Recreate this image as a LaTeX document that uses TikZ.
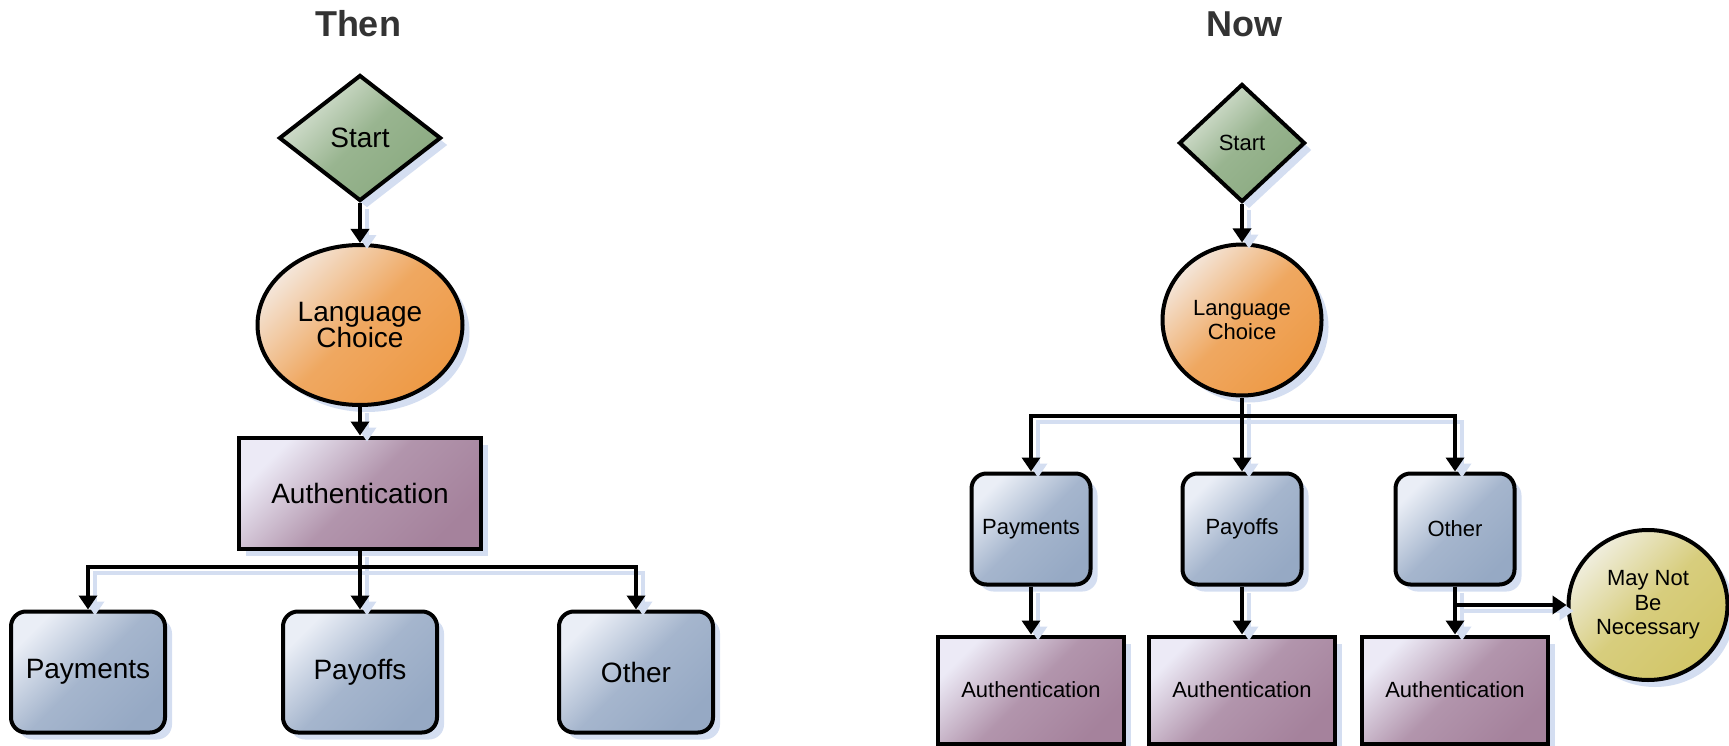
\documentclass[tikz,border=0pt]{standalone}
\usepackage{fontspec}
\setmainfont{Liberation Sans}
\usetikzlibrary{shapes.geometric,arrows.meta,shadows}

\definecolor{shadowc}{HTML}{D4DEF1}
\definecolor{titlec}{HTML}{333333}
\definecolor{greenL}{HTML}{DCE5D8}
\definecolor{greenD}{HTML}{8AAA80}
\definecolor{orangeL}{HTML}{F4E6DA}
\definecolor{orangeD}{HTML}{EE9A46}
\definecolor{purpleL}{HTML}{ECEAF6}
\definecolor{purpleD}{HTML}{A5829C}
\definecolor{blueL}{HTML}{EAEEF6}
\definecolor{blueD}{HTML}{96A9C4}
\definecolor{yellowL}{HTML}{F0EEDE}
\definecolor{yellowD}{HTML}{D2C668}

\begin{document}
\begin{tikzpicture}[x=1pt,y=-1pt,
  shape base/.style={draw=black, line width=4pt, inner sep=0pt, align=center,
    drop shadow={shadow xshift=7pt, shadow yshift=-7pt, fill=shadowc, opacity=1}},
  big/.style={font=\fontsize{28}{26.5}\selectfont},
  small/.style={font=\fontsize{22}{24.5}\selectfont},
  title/.style={font=\fontsize{36}{40}\selectfont\bfseries, text=titlec, anchor=base},
  grad/.style 2 args={top color=#1, bottom color=#2, middle color=#2!82!#1, shading angle=45},
  startbox/.style={shape base, diamond, grad={greenL}{greenD}},
  choicebox/.style={shape base, ellipse, grad={orangeL}{orangeD}},
  authbox/.style={shape base, rectangle, grad={purpleL}{purpleD}},
  taskbox/.style={shape base, rectangle, rounded corners=15pt, grad={blueL}{blueD}},
  optbox/.style={shape base, ellipse, grad={yellowL}{yellowD}},
  wire/.style={draw=black, line width=4pt,
    preaction={draw=shadowc, line width=4pt, transform canvas={shift={(7pt,-6pt)}}}},
  conn/.style={wire, -{Triangle[length=14pt,width=18pt]}},
]
\useasboundingbox (0,0) rectangle (1729,746);

% ---------- left flow ----------
\node[title] (then) at (358,37) {Then};
\node[startbox, big, minimum width=162pt, minimum height=126pt] (s1) at (360,138) {Start};
\node[choicebox, big, minimum width=205pt, minimum height=160pt] (l1) at (360,325) {Language\\Choice};
\node[authbox, big, minimum width=242pt, minimum height=111pt] (a1) at (360,493) {Authentication};
\node[taskbox, big, minimum width=154pt, minimum height=121pt] (p1) at (88,672) {Payments};
\node[taskbox, big, minimum width=154pt, minimum height=121pt] (p2) at (360,672) {Payoffs};
\node[taskbox, big, minimum width=154pt, minimum height=121pt] (p3) at (636,672) {Other};
\coordinate (bar1) at (360,567);

\draw[conn] (s1) -- (l1);
\draw[conn] (l1) -- (a1);
\draw[wire] (a1) -- (bar1);
\draw[conn] (bar1) -| (p1);
\draw[conn] (bar1) -- (p2);
\draw[conn] (bar1) -| (p3);

% ---------- right flow ----------
\node[title] (now) at (1244,37) {Now};
\node[startbox, small, minimum width=126pt, minimum height=118pt] (s2) at (1242,143) {Start};
\node[choicebox, small, minimum width=159pt, minimum height=151pt] (l2) at (1242,320) {Language\\Choice};
\node[taskbox, small, minimum width=119pt, minimum height=111pt] (q1) at (1031,529) {Payments};
\node[taskbox, small, minimum width=119pt, minimum height=111pt] (q2) at (1242,529) {Payoffs};
\node[taskbox, small, minimum width=119pt, minimum height=111pt] (q3) at (1455,529) {Other};
\node[authbox, small, minimum width=186pt, minimum height=107pt] (b1) at (1031,690) {Authentication};
\node[authbox, small, minimum width=186pt, minimum height=107pt] (b2) at (1242,690) {Authentication};
\node[authbox, small, minimum width=186pt, minimum height=107pt] (b3) at (1455,690) {Authentication};
\node[optbox, small, minimum width=159pt, minimum height=150pt] (m) at (1648,605) {May Not\\Be\\Necessary};
\coordinate (bar2) at (1242,416);
\coordinate (fork) at (q3.south |- m.west);

\draw[conn] (s2) -- (l2);
\draw[wire] (l2) -- (bar2);
\draw[conn] (bar2) -| (q1);
\draw[conn] (bar2) -- (q2);
\draw[conn] (bar2) -| (q3);
\draw[conn] (q1) -- (b1);
\draw[conn] (q2) -- (b2);
\draw[conn] (q3) -- (b3);
\draw[conn] (fork) -- (m.west);
\end{tikzpicture}
\end{document}
